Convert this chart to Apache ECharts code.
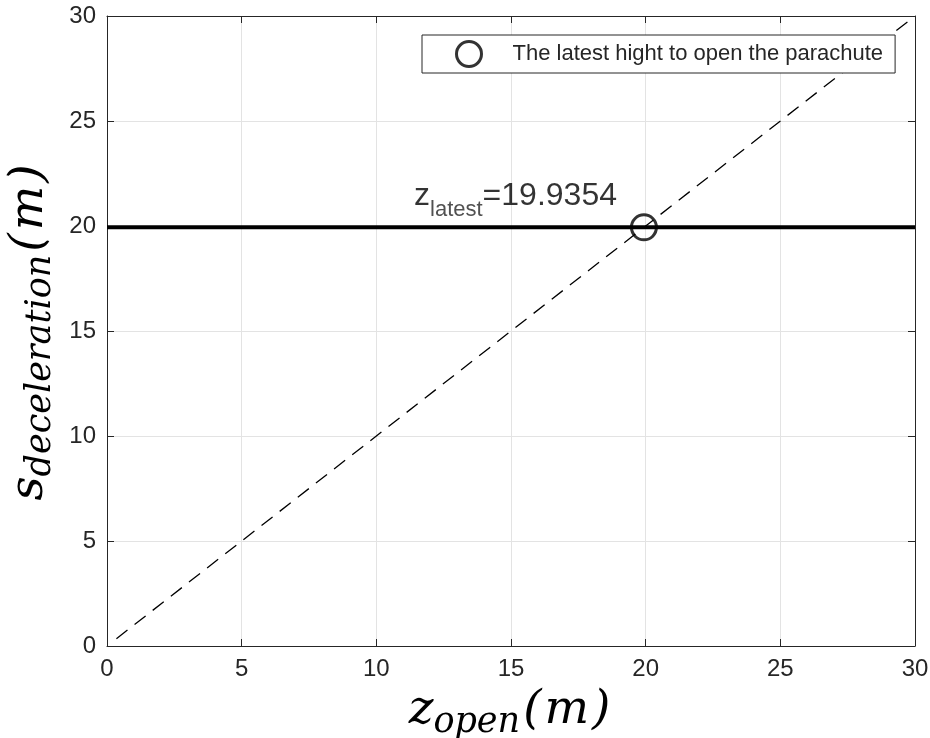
<!DOCTYPE html>
<html>
<head>
<meta charset="utf-8">
<script src="https://cdn.jsdelivr.net/npm/echarts@6/dist/echarts.min.js"></script>
<style>
html, body { margin: 0; padding: 0; background: #fff; }
#chart { width: 930px; height: 738px; }
</style>
</head>
<body>
<div id="chart"></div>
<script>
// dashed reference line s = z
var diagX = [0.35, 29.8];
var diagY = [0.35, 29.8];
// horizontal line at the latest opening height
var flatX = [0, 30];
var zLatest = 19.9354;
var latestPoint = [19.9354, 19.9354];
var textAnchor = [11.4, 21.4];
var legendName = 'The latest hight to open the parachute';
var axisMin = 0, axisMax = 30, axisStep = 5;

var axisColor = '#262626';
var sans = 'Liberation Sans, Arial, sans-serif';
var serif = 'DejaVu Serif, serif';

var nameRich = {
	m: { fontFamily: serif, fontStyle: 'italic', fontSize: 47, lineHeight: 58, color: '#000', verticalAlign: 'middle' },
	s: { fontFamily: serif, fontStyle: 'italic', fontSize: 35, lineHeight: 38, color: '#000', verticalAlign: 'bottom' },
	p: { fontFamily: serif, fontStyle: 'italic', fontSize: 47, lineHeight: 58, color: '#000', verticalAlign: 'middle', padding: [0, 3, 0, 3] }
};

function makeAxis(pos, main, name) {
	var ax = {
		type: 'value',
		position: pos,
		min: axisMin,
		max: axisMax,
		interval: axisStep,
		axisLine: { show: true, onZero: false, lineStyle: { color: axisColor, width: 1 } },
		axisTick: { show: true, inside: true, length: 7, lineStyle: { color: axisColor } },
		axisLabel: { show: main, fontSize: 24, color: axisColor, fontFamily: sans, margin: 11 },
		splitLine: { show: main, lineStyle: { color: '#e3e3e3', width: 1 } }
	};
	if (name) {
		ax.name = name;
		ax.nameLocation = 'middle';
		ax.nameTextStyle = { rich: nameRich };
	}
	return ax;
}

var chart = echarts.init(document.getElementById('chart'));

var xMain = makeAxis('bottom', true, '{m|z}{s|open}{p|(}{m|m}{p|)}');
xMain.nameGap = 36;
var yMain = makeAxis('left', true, '{m|s}{s|deceleration}{p|(}{m|m}{p|)}');
yMain.nameGap = 47;
yMain.nameRotate = 90;

function pairs(xs, ys) {
	var out = [];
	for (var i = 0; i < xs.length; i++) {
		out.push([xs[i], ys[i]]);
	}
	return out;
}

var option = {
	animation: false,
	backgroundColor: '#fff',
	grid: { left: 107, right: 15, top: 16, bottom: 92, outerBoundsMode: 'none', containLabel: false },
	xAxis: [xMain, makeAxis('top', false)],
	yAxis: [yMain, makeAxis('right', false)],
	legend: {
		data: [legendName],
		left: 422,
		top: 35,
		orient: 'horizontal',
		padding: [5, 12, 5, 33],
		itemWidth: 25,
		itemHeight: 25,
		icon: 'circle',
		backgroundColor: '#fff',
		borderColor: axisColor,
		borderWidth: 1,
		borderRadius: 0,
		itemStyle: { color: 'transparent', borderColor: '#000', borderWidth: 3 },
		textStyle: { fontSize: 22, color: axisColor, fontFamily: sans, padding: [0, 0, 0, 26] }
	},
	series: [
		{
			type: 'line',
			data: pairs(diagX, diagY),
			symbol: 'none',
			silent: true,
			lineStyle: { color: '#000', width: 1.3, type: [14, 9] }
		},
		{
			type: 'line',
			data: pairs(flatX, [zLatest, zLatest]),
			symbol: 'none',
			silent: true,
			lineStyle: { color: '#000', width: 4 }
		},
		{
			name: legendName,
			type: 'scatter',
			data: [latestPoint],
			symbol: 'circle',
			symbolSize: 25,
			itemStyle: { color: 'transparent', borderColor: '#000', borderWidth: 3 },
			z: 3
		},
		{
			type: 'scatter',
			data: [textAnchor],
			symbolSize: 0,
			silent: true,
			label: {
				show: true,
				position: 'right',
				distance: 0,
				formatter: '{a|z}{b|latest}{a|=' + zLatest + '}',
				rich: {
					a: { fontFamily: sans, fontSize: 32, lineHeight: 36, color: '#000', verticalAlign: 'middle' },
					b: { fontFamily: sans, fontSize: 22, lineHeight: 25, color: axisColor, verticalAlign: 'bottom', padding: [0, 0, -6, 0] }
				}
			}
		}
	]
};

chart.setOption(option);
</script>
</body>
</html>
